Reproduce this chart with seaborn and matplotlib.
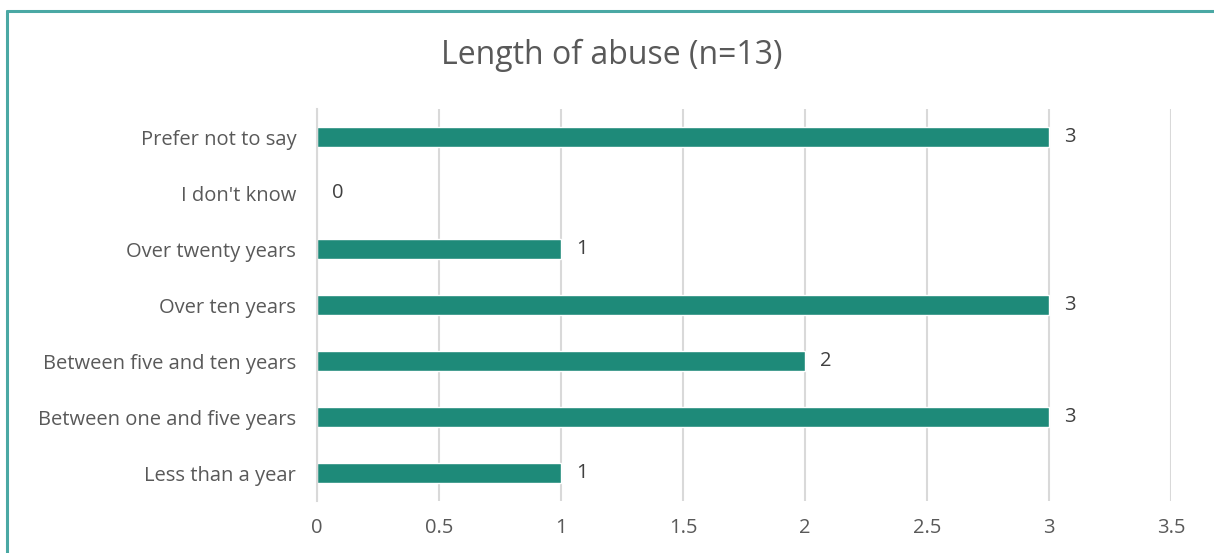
import pandas as pd
import matplotlib
matplotlib.use("Agg")
import matplotlib.pyplot as plt
import seaborn as sns
from matplotlib.lines import Line2D

sns.set_style("white")
plt.rcParams['font.family'] = ['Open Sans', 'DejaVu Sans']

categories = [
    "Prefer not to say",
    "I don't know",
    "Over twenty years",
    "Over ten years",
    "Between five and ten years",
    "Between one and five years",
    "Less than a year",
]
counts = [3, 0, 1, 3, 2, 3, 1]
x_ticks = [0, 0.5, 1, 1.5, 2, 2.5, 3, 3.5]
x_tick_labels = ["0", "0.5", "1", "1.5", "2", "2.5", "3", "3.5"]

df = pd.DataFrame({"category": categories, "count": counts})

W, H = 1214, 553
fig = plt.figure(figsize=(W / 100, H / 100), dpi=100)
ax = fig.add_axes([317 / W, 1 - 501 / H, (1171 - 317) / W, (501 - 109) / H])

sns.barplot(data=df, x="count", y="category", order=categories,
            color="#1e8a79", saturation=1, width=0.36, ax=ax)

for i, v in enumerate(counts):
    ax.annotate(str(v), xy=(v, i), xytext=(11, 0), textcoords="offset points",
                ha="left", va="center", fontsize=14.5, color="#404040")

ax.set_xlim(0, 3.5)
ax.set_ylim(6.5, -0.5)
ax.set_xticks(x_ticks)
ax.set_xticklabels(x_tick_labels)
ax.xaxis.grid(True, color="#d9d9d9", linewidth=1.5)
ax.set_axisbelow(True)
ax.tick_params(axis="x", length=0, pad=12, labelsize=14.5, labelcolor="#595959")
ax.tick_params(axis="y", length=0, pad=15, labelsize=14.5, labelcolor="#595959")
ax.set_xlabel("")
ax.set_ylabel("")
for s in ["top", "right", "bottom"]:
    ax.spines[s].set_visible(False)
ax.spines["left"].set_color("#d9d9d9")
ax.spines["left"].set_linewidth(1.5)

fig.text(612 / W, 1 - 55 / H, "Length of abuse (n=13)", ha="center", va="center",
         fontsize=23, color="#595959")

# teal frame around the chart (top and left edges visible)
bc = "#4aa8a4"
fig.add_artist(Line2D([7 / W, 1.0], [1 - 11 / H, 1 - 11 / H], color=bc, linewidth=2.2))
fig.add_artist(Line2D([7 / W, 7 / W], [0.0, 1 - 11 / H], color=bc, linewidth=2.2))

fig.savefig("out.png", dpi=100)
